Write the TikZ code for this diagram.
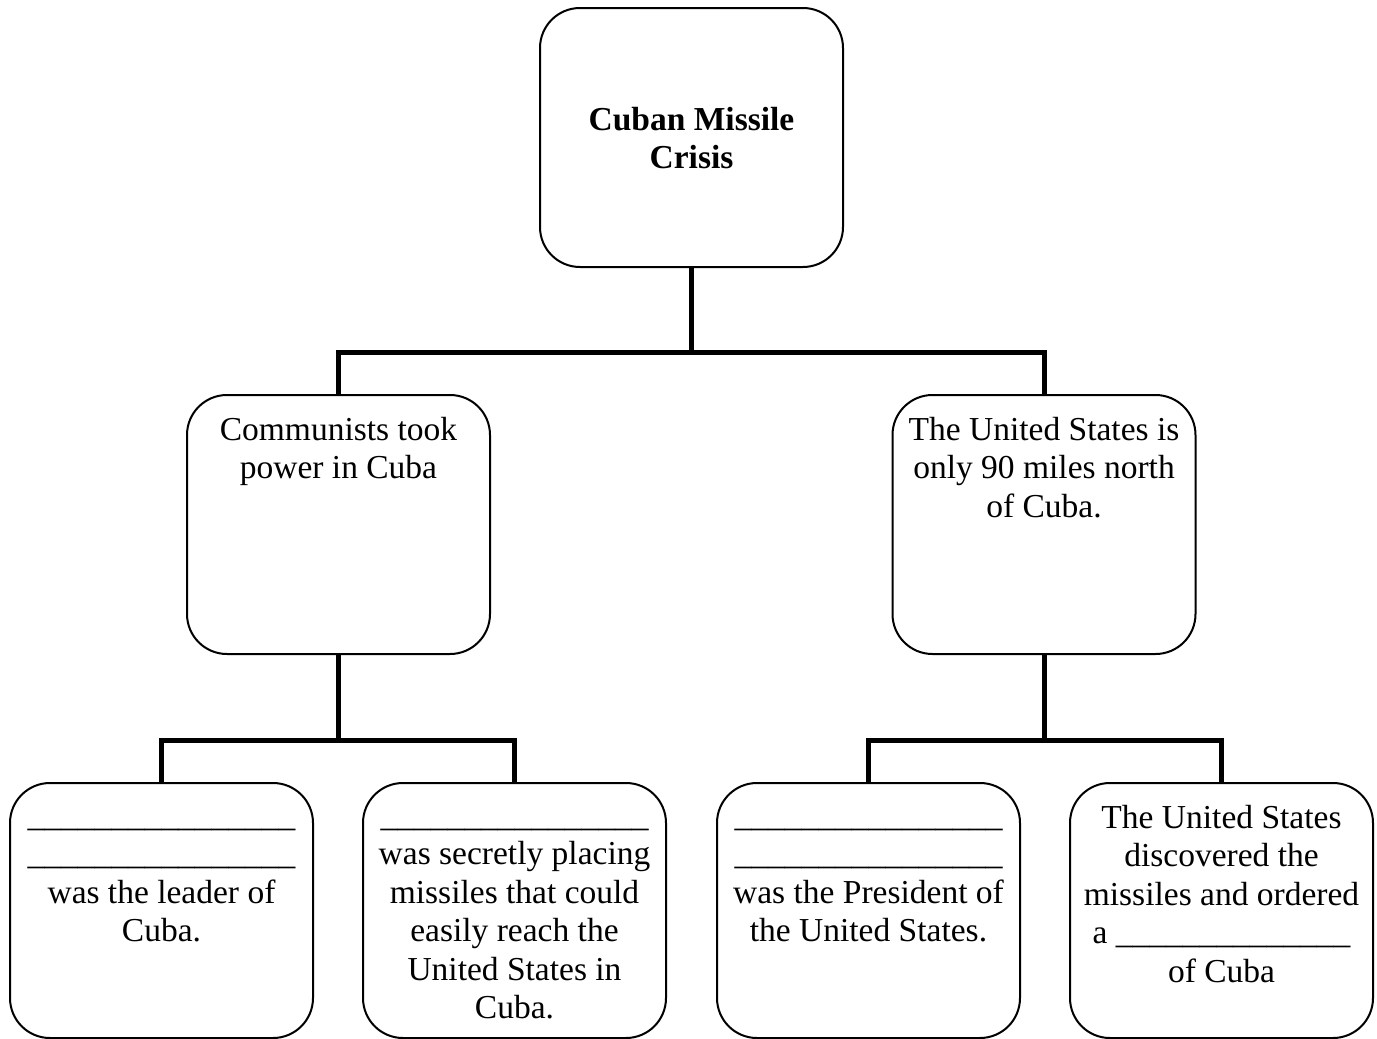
\documentclass[tikz,border=0pt]{standalone}
\usepackage{fontspec}
\setmainfont{Liberation Serif}
\begin{document}
\begin{tikzpicture}[x=0.5pt,y=-0.5pt,
  box/.style={draw,line width=1pt,rounded corners=20pt,minimum width=151.5pt,minimum height=129.5pt,inner sep=0pt},
  lowbox/.style={box,minimum height=127.5pt},
  txt/.style={align=center,inner sep=0pt,anchor=base,font=\fontsize{16.75pt}{19.25pt}\selectfont},
  conn/.style={line width=2.5pt}]
\useasboundingbox (0,0) rectangle (1377,1039);
% boxes
\node[box] (top) at (691.5,137.5) {};
\node[box] (ml) at (338.5,524.5) {};
\node[box] (mr) at (1044,524.5) {};
\node[lowbox] (b1) at (161.5,910.5) {};
\node[lowbox] (b2) at (514.5,910.5) {};
\node[lowbox] (b3) at (868.5,910.5) {};
\node[lowbox] (b4) at (1221.5,910.5) {};
% texts (anchor = baseline of the last line)
\node[txt,font=\fontsize{16.75pt}{19.25pt}\selectfont\bfseries] (ttop) at (691.5,168.5) {Cuban Missile\\Crisis};
\node[txt] (tml) at (338.5,478.5) {Communists took\\power in Cuba};
\node[txt] (tmr) at (1044,517) {The United States is\\only 90 miles north\\of Cuba.};
\node[txt] (tb1) at (161.5,941.5) {\_\_\_\_\_\_\_\_\_\_\_\_\_\_\_\_\\\_\_\_\_\_\_\_\_\_\_\_\_\_\_\_\_\\was the leader of\\Cuba.};
\node[txt] (tb2) at (514.5,1018.5) {\_\_\_\_\_\_\_\_\_\_\_\_\_\_\_\_\\was secretly placing\\missiles that could\\easily reach the\\United States in\\Cuba.};
\node[txt] (tb3) at (868.5,941.5) {\_\_\_\_\_\_\_\_\_\_\_\_\_\_\_\_\\\_\_\_\_\_\_\_\_\_\_\_\_\_\_\_\_\\was the President of\\the United States.};
\node[txt] (tb4) at (1221.5,982) {The United States\\discovered the\\missiles and ordered\\a \_\_\_\_\_\_\_\_\_\_\_\_\_\_\\of Cuba};
% connectors
\coordinate (j0) at (691.5,352);
\coordinate (jl) at (338.5,740);
\coordinate (jr) at (1044,740);
\draw[conn] (top.south) -- (j0);
\draw[conn] (ml.north) |- (j0) -| (mr.north);
\draw[conn] (ml.south) -- (jl);
\draw[conn] (b1.north) |- (jl) -| (b2.north);
\draw[conn] (mr.south) -- (jr);
\draw[conn] (b3.north) |- (jr) -| (b4.north);
\end{tikzpicture}
\end{document}
